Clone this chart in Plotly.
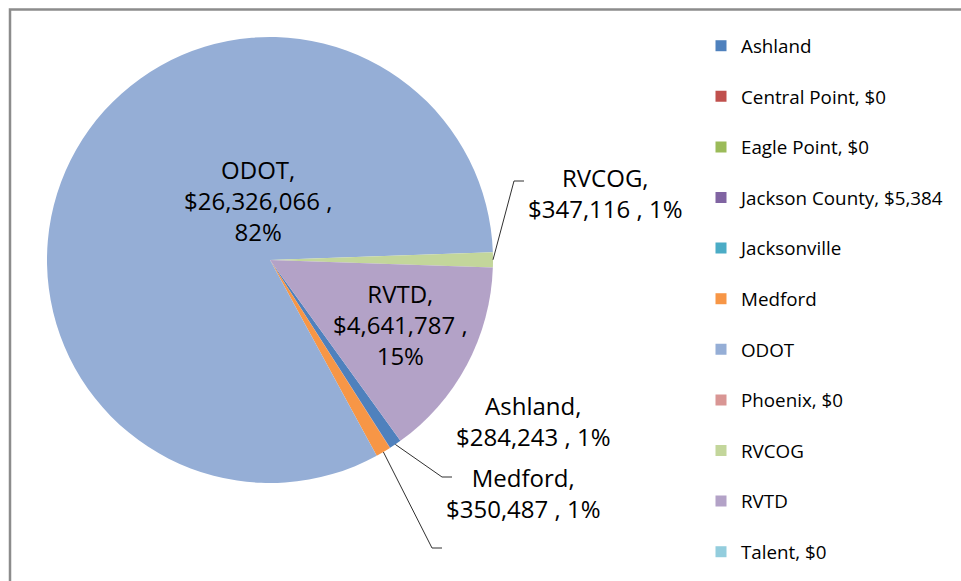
import math
import plotly.graph_objects as go

categories = ["Ashland", "Central Point", "Eagle Point", "Jackson County", "Jacksonville",
              "Medford", "ODOT", "Phoenix", "RVCOG", "RVTD", "Talent"]
values = [284243, 0, 0, 5384, 0, 350487, 26326066, 0, 347116, 4641787, 0]
legend_labels = ["Ashland", "Central Point, $0", "Eagle Point, $0", "Jackson County, $5,384",
                 "Jacksonville", "Medford", "ODOT", "Phoenix, $0", "RVCOG", "RVTD", "Talent, $0"]
colors = ["#4F81BD", "#C0504D", "#9BBB59", "#8064A2", "#4BACC6", "#F79646",
          "#95AED6", "#D99694", "#C3D69B", "#B3A2C7", "#93CDDD"]
inside_slices = ["ODOT", "RVTD"]
outside_slices = ["RVCOG", "Ashland", "Medford"]

W, H = 961, 581
FONT = "Open Sans"
CX, CY, R = 270, 260, 223
ROTATION = 144.2
LEG_X, LEG_TOP, LEG_STEP = 701, 46, 50.6

total = sum(values)
pct = [v / total for v in values]

fig = go.Figure()
fig.add_trace(go.Pie(
    labels=categories, values=values, sort=False, direction="clockwise",
    rotation=ROTATION,
    marker=dict(colors=colors, line=dict(width=0)),
    textinfo="none",
    showlegend=False,
    domain=dict(x=[(CX - R) / W, (CX + R) / W], y=[(H - CY - R) / H, (H - CY + R) / H]),
))

legend_layouts = {}
for i, c in enumerate(categories):
    key = "legend" if i == 0 else f"legend{i + 1}"
    fig.add_trace(go.Scatter(
        x=[None], y=[None], mode="markers", name=legend_labels[i], legend=key,
        marker=dict(symbol="square", size=11, color=colors[i]), hoverinfo="skip"))
    legend_layouts[key] = dict(
        x=LEG_X / W, xanchor="left", y=1 - (LEG_TOP + i * LEG_STEP) / H, yanchor="middle",
        font=dict(family=FONT, size=18.8, color="#000000"), bgcolor="rgba(0,0,0,0)")

# slice mid angles from the data
start = ROTATION
mid_angle = {}
for c, p in zip(categories, pct):
    mid_angle[c] = start + p * 360 / 2
    start += p * 360

def rim(c):
    a = math.radians(mid_angle[c])
    return CX + R * math.sin(a), CY - R * math.cos(a)

def px(x, y):
    return x / W, 1 - y / H

label_info = {
    "ODOT": dict(text_xy=(182, 201), elbow=None),
    "RVTD": dict(text_xy=(400, 324), elbow=None),
    "RVCOG": dict(text_xy=(605, 159), elbow=[(514, 181), (524, 181)]),
    "Ashland": dict(text_xy=(533, 455), elbow=[(442, 477), (452, 477)]),
    "Medford": dict(text_xy=(523, 527), elbow=[(432, 548), (442, 548)]),
}
annotations = []
shapes = []
for c in inside_slices + outside_slices:
    i = categories.index(c)
    info = label_info[c]
    tx, ty = px(*info["text_xy"])
    if c in inside_slices:
        txt = f"{c},<br>${values[i]:,} ,<br>{round(pct[i]*100)}%"
    else:
        txt = f"{c},<br>${values[i]:,} , {round(pct[i]*100)}%"
    annotations.append(dict(
        x=tx, y=ty, xref="paper", yref="paper", showarrow=False,
        text=txt, font=dict(family=FONT, size=24, color="#000000"), align="center"))
    if info["elbow"]:
        pts = [rim(c)] + info["elbow"]
        path = "M " + " L ".join(f"{px(x, y)[0]} {px(x, y)[1]}" for x, y in pts)
        shapes.append(dict(type="path", path=path, xref="paper", yref="paper",
                           line=dict(color="#303030", width=1)))

shapes.append(dict(type="rect", xref="paper", yref="paper",
                   x0=10 / W, x1=1.02, y0=-0.02, y1=1 - 9.5 / H,
                   line=dict(color="#8C8C8C", width=2.5), fillcolor="rgba(0,0,0,0)"))

fig.update_layout(
    width=W, height=H, margin=dict(l=0, r=0, t=0, b=0),
    paper_bgcolor="white", plot_bgcolor="white",
    xaxis=dict(visible=False), yaxis=dict(visible=False),
    annotations=annotations, shapes=shapes,
    showlegend=True,
    **legend_layouts,
)
fig.write_html("out.html", config={"displayModeBar": False},
               post_script="document.body.style.margin='0px';")
